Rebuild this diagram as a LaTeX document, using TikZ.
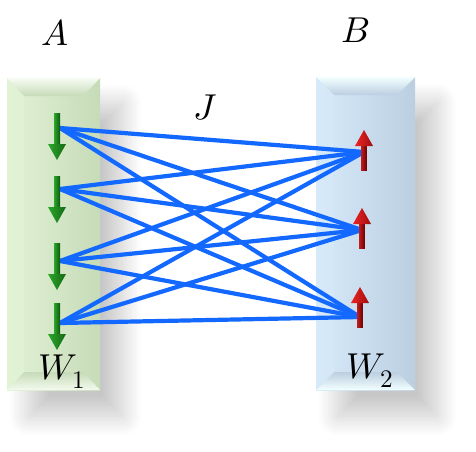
\documentclass[tikz,border=0pt]{standalone}
\usepackage{unicode-math}
\definecolor{panelGreen}{RGB}{198,219,184}
\definecolor{panelGreenLight}{RGB}{226,243,214}
\definecolor{panelBlue}{RGB}{188,207,225}
\definecolor{panelBlueLight}{RGB}{214,234,250}
\definecolor{linkBlue}{RGB}{18,104,255}
\definecolor{spinGreen}{RGB}{44,168,44}
\definecolor{spinGreenDark}{RGB}{14,88,14}
\definecolor{spinRed}{RGB}{236,36,36}
\definecolor{spinRedDark}{RGB}{110,0,0}
\usepackage{tikz}
\usetikzlibrary{calc,shadows.blur}

\begin{document}
\begin{tikzpicture}[x=1pt,y=-1pt,
    link/.style={linkBlue,line width=4.2pt},
    spinlabel/.style={font=\fontsize{36}{38}\selectfont},
    panelshadow/.style={blur shadow={shadow xshift=22pt,shadow yshift=-26pt,shadow blur radius=20pt,shadow blur steps=24,shadow opacity=22}}]
    \useasboundingbox (0,0) rectangle (476,451);

    % Panels with soft shadow
    \path[panelshadow,fill=white] (7,78) rectangle (100,390);
    \path[panelshadow,fill=white] (316,77) rectangle (415,390);
    \shade[left color=panelGreenLight,right color=panelGreen] (7,78) rectangle (100,390);
    \shade[left color=panelBlueLight,right color=panelBlue] (316,77) rectangle (415,390);

    % Bevel edges
    \shade[top color=white!70!panelGreenLight,bottom color=panelGreen] (7,78) -- (100,78) -- (83,96) -- (24,96) -- cycle;
    \shade[top color=panelGreen,bottom color=white!60!panelGreenLight] (24,372) -- (83,372) -- (100,390) -- (7,390) -- cycle;
    \fill[panelGreenLight,opacity=0.6] (7,78) -- (24,96) -- (24,372) -- (7,390) -- cycle;
    \shade[top color=white!60!cyan!12,bottom color=panelBlue] (316,77) -- (415,77) -- (397,95) -- (334,95) -- cycle;
    \shade[top color=panelBlue,bottom color=white!60!cyan!12] (334,372) -- (397,372) -- (415,390) -- (316,390) -- cycle;
    \fill[panelBlueLight,opacity=0.6] (316,77) -- (334,95) -- (334,372) -- (316,390) -- cycle;

    % Labels
    \node[spinlabel] (labA) at (55,33) {$A$};
    \node[spinlabel] (labB) at (356,30) {$B$};
    \node[spinlabel] (labJ) at (205,108) {$J$};
    \node[spinlabel] (labW1) at (62,372) {$W_1$};
    \node[spinlabel] (labW2) at (370,371) {$W_2$};

    % Spin sites
    \coordinate (a1) at (60,128);
    \coordinate (a2) at (60,189);
    \coordinate (a3) at (60,261);
    \coordinate (a4) at (60,323);
    \coordinate (b1) at (364,152);
    \coordinate (b2) at (362,230);
    \coordinate (b3) at (360,317);

    % Couplings
    \foreach \i in {1,...,4}
        \foreach \j in {1,2,3}
            \draw[link] (a\i) -- (b\j);

    % Spins down in W1
    \foreach \y in {113,176,243,303} {
        \shade[left color=spinGreen,right color=spinGreenDark] (54,\y) rectangle (60,\y+32);
        \shade[left color=spinGreen,right color=spinGreenDark!80!spinGreen] (48,\y+31) -- (66,\y+31) -- (57,\y+47) -- cycle;
    }

    % Spins up in W2
    \foreach \x/\y in {364/130,362/208,360/287} {
        \shade[left color=spinRed!80!black,right color=spinRedDark] (\x-2.8,\y+15) rectangle (\x+2.8,\y+40);
        \shade[left color=spinRed,right color=spinRedDark!60!spinRed] (\x-9,\y+16) -- (\x+9,\y+16) -- (\x,\y) -- cycle;
    }
\end{tikzpicture}
\end{document}
